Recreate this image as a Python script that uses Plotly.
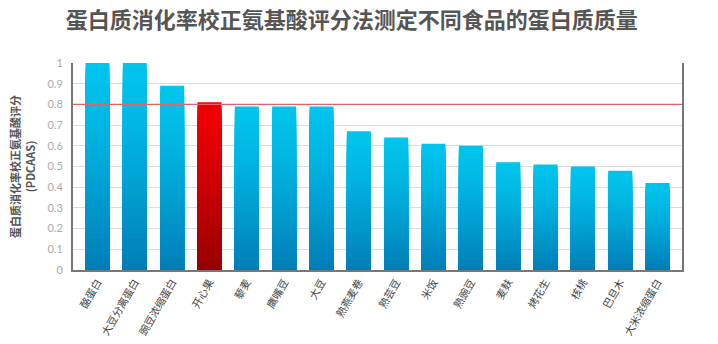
import plotly.graph_objects as go

foods = ["酪蛋白", "大豆分离蛋白", "豌豆浓缩蛋白", "开心果", "藜麦", "鹰嘴豆", "大豆",
         "熟燕麦卷", "熟芸豆", "米饭", "熟豌豆", "麦麸", "烤花生", "核桃", "巴旦木", "大米浓缩蛋白"]
pdcaas = [1.0, 1.0, 0.89, 0.81, 0.79, 0.79, 0.79, 0.67, 0.64, 0.61, 0.60, 0.52, 0.51, 0.50, 0.48, 0.42]
highlight = "开心果"
threshold = 0.8
y_ticks = [0, 0.1, 0.2, 0.3, 0.4, 0.5, 0.6, 0.7, 0.8, 0.9, 1]
y_tick_text = ["0", "0.1", "0.2", "0.3", "0.4", "0.5", "0.6", "0.7", "0.8", "0.9", "1"]

blue_top, blue_bot = (0, 196, 236), (0, 126, 184)
red_top, red_bot = (240, 0, 0), (150, 0, 0)


def mix(a, b, t):
    return "rgb(%d,%d,%d)" % tuple(round(a[i] + (b[i] - a[i]) * t) for i in range(3))


N = 40
fig = go.Figure()
for j in range(N):
    frac = (N - j) / N
    t = (j / (N - 1)) ** 1.3
    colors = [mix(red_top, red_bot, t) if f == highlight else mix(blue_top, blue_bot, t) for f in foods]
    fig.add_trace(go.Bar(
        x=foods, y=[v * frac for v in pdcaas],
        marker=dict(color=colors, line=dict(width=0)),
        hoverinfo="skip" if j else "x+y", showlegend=False,
    ))

fig.add_shape(type="line", xref="paper", x0=0, x1=1, yref="y", y0=threshold, y1=threshold,
              line=dict(color="#E8606A", width=1.2), layer="above")

fig.update_layout(
    width=718, height=344,
    margin=dict(l=73, r=36, t=63, b=74),
    barmode="overlay", bargap=0.357,
    paper_bgcolor="white", plot_bgcolor="white",
    font=dict(family="Noto Sans CJK SC, Lato, sans-serif", color="#555"),
    title=dict(text="<b>蛋白质消化率校正氨基酸评分法测定不同食品的蛋白质质量</b>",
               x=0.49, xanchor="center", y=0.94, yanchor="middle",
               font=dict(size=22, color="#555", family="Noto Sans CJK SC")),
    xaxis=dict(
        range=[-0.655, len(foods) - 1 + 0.655], tickangle=-60, automargin=False,
        tickfont=dict(size=10.5, color="#444", family="Noto Sans CJK SC"),
        showline=True, linecolor="#777", linewidth=2, showgrid=False,
        ticks="", ticklen=0,
    ),
    yaxis=dict(
        range=[0, 1], tickvals=y_ticks, ticktext=y_tick_text, automargin=False,
        tickfont=dict(size=11, color="#aaa", family="Lato"),
        showgrid=True, gridcolor="#dcdcdc", gridwidth=1,
        showline=True, linecolor="#777", linewidth=2, mirror=True,
        zeroline=False, ticks="", ticklabelstandoff=6,
        title=dict(text="<b>蛋白质消化率校正氨基酸评分<br>(PDCAAS)</b>",
                   font=dict(size=11, color="#555", family="Noto Sans CJK SC"), standoff=10),
    ),
)

fig.write_html("out.html")
